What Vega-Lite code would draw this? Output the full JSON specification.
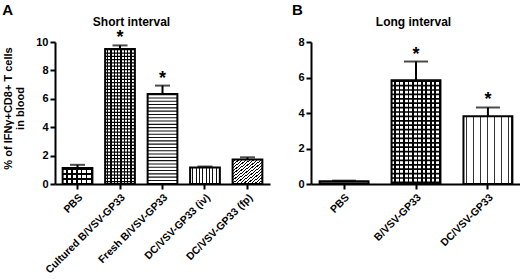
{
  "$schema": "https://vega.github.io/schema/vega-lite/v6.json",
  "padding": {"left": 2, "top": 3, "right": 5, "bottom": 0},
  "spacing": 21,
  "config": {
    "view": {"stroke": null},
    "font": "Liberation Sans",
    "axis": {"domainColor": "black", "domainWidth": 2, "tickColor": "black", "tickWidth": 2, "tickSize": 5, "labelColor": "black", "labelFont": "Liberation Sans", "labelFontWeight": "bold", "titleColor": "black", "titleFont": "Liberation Sans", "titleFontWeight": "bold", "grid": false, "labelOverlap": false},
    "axisX": {"labelFontSize": 10.5, "labelAngle": -45, "labelAlign": "right", "labelBaseline": "top", "labelPadding": 3},
    "axisY": {"labelFontSize": 11, "labelPadding": 2},
    "title": {"color": "black", "font": "Liberation Sans"}
  },
  "datasets": {
    "a": [
      {"group": "PBS", "mean": 1.12, "upper": 1.35, "star": ""},
      {"group": "Cultured B/VSV-GP33", "mean": 9.5, "upper": 9.76, "star": "*"},
      {"group": "Fresh B/VSV-GP33", "mean": 6.33, "upper": 6.93, "star": "*"},
      {"group": "DC/VSV-GP33 (iv)", "mean": 1.17, "upper": 1.23, "star": ""},
      {"group": "DC/VSV-GP33 (fp)", "mean": 1.73, "upper": 1.88, "star": ""}
    ],
    "b": [
      {"group": "PBS", "mean": 0.15, "upper": 0.19, "star": ""},
      {"group": "B/VSV-GP33", "mean": 5.84, "upper": 6.9, "star": "*"},
      {"group": "DC/VSV-GP33", "mean": 3.82, "upper": 4.31, "star": "*"}
    ]
  },
  "hconcat": [
    {
      "width": 215,
      "height": 142,
      "title": {"text": "A", "anchor": "start", "frame": "bounds", "fontSize": 15, "fontWeight": "bold", "offset": -3},
      "data": {"name": "a"},
      "resolve": {"axis": {"x": "independent", "y": "independent"}},
      "layer": [
        {
          "mark": {"type": "bar", "strokeWidth": 0},
          "encoding": {
            "x": {"field": "group", "type": "nominal", "sort": null, "scale": {"paddingInner": 0.3, "paddingOuter": 0.18}, "axis": {"title": null}},
            "y": {"field": "mean", "type": "quantitative", "scale": {"domain": [0, 10]}, "axis": {"values": [0, 2, 4, 6, 8, 10], "title": ["% of IFNγ+CD8+ T cells", "in blood"], "titleFontSize": 11, "titlePadding": 10, "titleLineHeight": 12.5, "titleY": 66}},
            "fill": {
              "condition": [
                {"test": "datum.group == 'PBS'", "value": {"gradient": "linear", "x1": 0, "y1": 0, "x2": 1, "y2": 0, "stops": [
                  {"offset": 0, "color": "#fff"}, {"offset": 0.1033, "color": "#fff"}, {"offset": 0.1033, "color": "#000"}, {"offset": 0.1667, "color": "#000"},
                  {"offset": 0.1667, "color": "#fff"}, {"offset": 0.27, "color": "#fff"}, {"offset": 0.27, "color": "#000"}, {"offset": 0.3333, "color": "#000"},
                  {"offset": 0.3333, "color": "#fff"}, {"offset": 0.4367, "color": "#fff"}, {"offset": 0.4367, "color": "#000"}, {"offset": 0.5, "color": "#000"},
                  {"offset": 0.5, "color": "#fff"}, {"offset": 0.6033, "color": "#fff"}, {"offset": 0.6033, "color": "#000"}, {"offset": 0.6667, "color": "#000"},
                  {"offset": 0.6667, "color": "#fff"}, {"offset": 0.77, "color": "#fff"}, {"offset": 0.77, "color": "#000"}, {"offset": 0.8333, "color": "#000"},
                  {"offset": 0.8333, "color": "#fff"}, {"offset": 0.9367, "color": "#fff"}, {"offset": 0.9367, "color": "#000"}, {"offset": 1, "color": "#000"}
                ]}},
                {"test": "datum.group == 'Cultured B/VSV-GP33'", "value": {"gradient": "linear", "x1": 0, "y1": 0, "x2": 1, "y2": 0, "stops": [
                  {"offset": 0, "color": "#fff"}, {"offset": 0.0689, "color": "#fff"}, {"offset": 0.0689, "color": "#000"}, {"offset": 0.1111, "color": "#000"},
                  {"offset": 0.1111, "color": "#fff"}, {"offset": 0.18, "color": "#fff"}, {"offset": 0.18, "color": "#000"}, {"offset": 0.2222, "color": "#000"},
                  {"offset": 0.2222, "color": "#fff"}, {"offset": 0.2911, "color": "#fff"}, {"offset": 0.2911, "color": "#000"}, {"offset": 0.3333, "color": "#000"},
                  {"offset": 0.3333, "color": "#fff"}, {"offset": 0.4022, "color": "#fff"}, {"offset": 0.4022, "color": "#000"}, {"offset": 0.4444, "color": "#000"},
                  {"offset": 0.4444, "color": "#fff"}, {"offset": 0.5133, "color": "#fff"}, {"offset": 0.5133, "color": "#000"}, {"offset": 0.5556, "color": "#000"},
                  {"offset": 0.5556, "color": "#fff"}, {"offset": 0.6244, "color": "#fff"}, {"offset": 0.6244, "color": "#000"}, {"offset": 0.6667, "color": "#000"},
                  {"offset": 0.6667, "color": "#fff"}, {"offset": 0.7356, "color": "#fff"}, {"offset": 0.7356, "color": "#000"}, {"offset": 0.7778, "color": "#000"},
                  {"offset": 0.7778, "color": "#fff"}, {"offset": 0.8467, "color": "#fff"}, {"offset": 0.8467, "color": "#000"}, {"offset": 0.8889, "color": "#000"},
                  {"offset": 0.8889, "color": "#fff"}, {"offset": 0.9578, "color": "#fff"}, {"offset": 0.9578, "color": "#000"}, {"offset": 1, "color": "#000"}
                ]}},
                {"test": "datum.group == 'DC/VSV-GP33 (iv)'", "value": {"gradient": "linear", "x1": 0, "y1": 0, "x2": 1, "y2": 0, "stops": [
                  {"offset": 0, "color": "#fff"}, {"offset": 0.0778, "color": "#fff"}, {"offset": 0.0778, "color": "#111"}, {"offset": 0.1111, "color": "#111"},
                  {"offset": 0.1111, "color": "#fff"}, {"offset": 0.1889, "color": "#fff"}, {"offset": 0.1889, "color": "#111"}, {"offset": 0.2222, "color": "#111"},
                  {"offset": 0.2222, "color": "#fff"}, {"offset": 0.3, "color": "#fff"}, {"offset": 0.3, "color": "#111"}, {"offset": 0.3333, "color": "#111"},
                  {"offset": 0.3333, "color": "#fff"}, {"offset": 0.4111, "color": "#fff"}, {"offset": 0.4111, "color": "#111"}, {"offset": 0.4444, "color": "#111"},
                  {"offset": 0.4444, "color": "#fff"}, {"offset": 0.5222, "color": "#fff"}, {"offset": 0.5222, "color": "#111"}, {"offset": 0.5556, "color": "#111"},
                  {"offset": 0.5556, "color": "#fff"}, {"offset": 0.6333, "color": "#fff"}, {"offset": 0.6333, "color": "#111"}, {"offset": 0.6667, "color": "#111"},
                  {"offset": 0.6667, "color": "#fff"}, {"offset": 0.7444, "color": "#fff"}, {"offset": 0.7444, "color": "#111"}, {"offset": 0.7778, "color": "#111"},
                  {"offset": 0.7778, "color": "#fff"}, {"offset": 0.8556, "color": "#fff"}, {"offset": 0.8556, "color": "#111"}, {"offset": 0.8889, "color": "#111"},
                  {"offset": 0.8889, "color": "#fff"}, {"offset": 0.9667, "color": "#fff"}, {"offset": 0.9667, "color": "#111"}, {"offset": 1, "color": "#111"}
                ]}},
                {"test": "datum.group == 'DC/VSV-GP33 (fp)'", "value": {"gradient": "linear", "x1": 0, "y1": 0, "x2": 1, "y2": 1, "stops": [
                  {"offset": 0, "color": "#fff"}, {"offset": 0.0406, "color": "#fff"}, {"offset": 0.0406, "color": "#000"}, {"offset": 0.0625, "color": "#000"},
                  {"offset": 0.0625, "color": "#fff"}, {"offset": 0.1031, "color": "#fff"}, {"offset": 0.1031, "color": "#000"}, {"offset": 0.125, "color": "#000"},
                  {"offset": 0.125, "color": "#fff"}, {"offset": 0.1656, "color": "#fff"}, {"offset": 0.1656, "color": "#000"}, {"offset": 0.1875, "color": "#000"},
                  {"offset": 0.1875, "color": "#fff"}, {"offset": 0.2281, "color": "#fff"}, {"offset": 0.2281, "color": "#000"}, {"offset": 0.25, "color": "#000"},
                  {"offset": 0.25, "color": "#fff"}, {"offset": 0.2906, "color": "#fff"}, {"offset": 0.2906, "color": "#000"}, {"offset": 0.3125, "color": "#000"},
                  {"offset": 0.3125, "color": "#fff"}, {"offset": 0.3531, "color": "#fff"}, {"offset": 0.3531, "color": "#000"}, {"offset": 0.375, "color": "#000"},
                  {"offset": 0.375, "color": "#fff"}, {"offset": 0.4156, "color": "#fff"}, {"offset": 0.4156, "color": "#000"}, {"offset": 0.4375, "color": "#000"},
                  {"offset": 0.4375, "color": "#fff"}, {"offset": 0.4781, "color": "#fff"}, {"offset": 0.4781, "color": "#000"}, {"offset": 0.5, "color": "#000"},
                  {"offset": 0.5, "color": "#fff"}, {"offset": 0.5406, "color": "#fff"}, {"offset": 0.5406, "color": "#000"}, {"offset": 0.5625, "color": "#000"},
                  {"offset": 0.5625, "color": "#fff"}, {"offset": 0.6031, "color": "#fff"}, {"offset": 0.6031, "color": "#000"}, {"offset": 0.625, "color": "#000"},
                  {"offset": 0.625, "color": "#fff"}, {"offset": 0.6656, "color": "#fff"}, {"offset": 0.6656, "color": "#000"}, {"offset": 0.6875, "color": "#000"},
                  {"offset": 0.6875, "color": "#fff"}, {"offset": 0.7281, "color": "#fff"}, {"offset": 0.7281, "color": "#000"}, {"offset": 0.75, "color": "#000"},
                  {"offset": 0.75, "color": "#fff"}, {"offset": 0.7906, "color": "#fff"}, {"offset": 0.7906, "color": "#000"}, {"offset": 0.8125, "color": "#000"},
                  {"offset": 0.8125, "color": "#fff"}, {"offset": 0.8531, "color": "#fff"}, {"offset": 0.8531, "color": "#000"}, {"offset": 0.875, "color": "#000"},
                  {"offset": 0.875, "color": "#fff"}, {"offset": 0.9156, "color": "#fff"}, {"offset": 0.9156, "color": "#000"}, {"offset": 0.9375, "color": "#000"},
                  {"offset": 0.9375, "color": "#fff"}, {"offset": 0.9781, "color": "#fff"}, {"offset": 0.9781, "color": "#000"}, {"offset": 1, "color": "#000"}
                ]}}
              ],
              "value": "white"
            }
          }
        },
        {
          "transform": [{"filter": "datum.group == 'PBS'"}],
          "mark": {"type": "rule", "strokeWidth": 29.7, "strokeCap": "butt", "strokeDash": [1.9, 3.1], "color": "black"},
          "encoding": {
            "x": {"field": "group", "type": "nominal", "sort": null, "axis": null},
            "y": {"field": "mean", "type": "quantitative", "axis": null},
            "y2": {"datum": 0}
          }
        },
        {
          "transform": [{"filter": "datum.group == 'Cultured B/VSV-GP33'"}],
          "mark": {"type": "rule", "strokeWidth": 29.7, "strokeCap": "butt", "strokeDash": [1.25, 2.05], "color": "black"},
          "encoding": {
            "x": {"field": "group", "type": "nominal", "sort": null, "axis": null},
            "y": {"field": "mean", "type": "quantitative", "axis": null},
            "y2": {"datum": 0}
          }
        },
        {
          "transform": [{"filter": "datum.group == 'Fresh B/VSV-GP33'"}],
          "mark": {"type": "rule", "strokeWidth": 29.7, "strokeCap": "butt", "strokeDash": [1.1, 2.2], "color": "#111"},
          "encoding": {
            "x": {"field": "group", "type": "nominal", "sort": null, "axis": null},
            "y": {"field": "mean", "type": "quantitative", "axis": null},
            "y2": {"datum": 0}
          }
        },
        {
          "mark": {"type": "bar", "filled": false, "color": "black", "strokeWidth": 2},
          "encoding": {
            "x": {"field": "group", "type": "nominal", "sort": null, "axis": null},
            "y": {"field": "mean", "type": "quantitative", "axis": null}
          }
        },
        {
          "mark": {"type": "rule", "color": "black", "strokeWidth": 2},
          "encoding": {
            "x": {"field": "group", "type": "nominal", "sort": null, "axis": null},
            "y": {"field": "mean", "type": "quantitative", "axis": null},
            "y2": {"field": "upper"}
          }
        },
        {
          "mark": {"type": "tick", "color": "black", "size": 15, "thickness": 2, "orient": "horizontal"},
          "encoding": {
            "x": {"field": "group", "type": "nominal", "sort": null, "axis": null},
            "y": {"field": "upper", "type": "quantitative", "axis": null}
          }
        },
        {
          "mark": {"type": "text", "fontSize": 18, "fontWeight": "bold", "baseline": "alphabetic", "dy": -2, "color": "black"},
          "encoding": {
            "x": {"field": "group", "type": "nominal", "sort": null, "axis": {"orient": "top", "domain": false, "ticks": false, "labels": false, "title": "Short interval", "titleFontSize": 12, "titlePadding": 14, "titleX": 76}},
            "y": {"field": "upper", "type": "quantitative", "axis": null},
            "text": {"field": "star"}
          }
        }
      ]
    },
    {
      "width": 210,
      "height": 142,
      "title": {"text": "B", "anchor": "start", "frame": "bounds", "fontSize": 15, "fontWeight": "bold", "offset": -3, "dx": -6},
      "data": {"name": "b"},
      "resolve": {"axis": {"x": "independent", "y": "independent"}},
      "layer": [
        {
          "mark": {"type": "bar", "strokeWidth": 0},
          "encoding": {
            "x": {"field": "group", "type": "nominal", "sort": null, "scale": {"paddingInner": 0.32, "paddingOuter": 0.12}, "axis": {"title": null}},
            "y": {"field": "mean", "type": "quantitative", "scale": {"domain": [0, 8]}, "axis": {"values": [0, 2, 4, 6, 8], "title": null}},
            "fill": {
              "condition": [
                {"test": "datum.group == 'PBS'", "value": "#555"},
                {"test": "datum.group == 'B/VSV-GP33'", "value": {"gradient": "linear", "x1": 0, "y1": 0, "x2": 1, "y2": 0, "stops": [
                  {"offset": 0, "color": "#fff"}, {"offset": 0.0564, "color": "#fff"}, {"offset": 0.0564, "color": "#000"}, {"offset": 0.0909, "color": "#000"},
                  {"offset": 0.0909, "color": "#fff"}, {"offset": 0.1473, "color": "#fff"}, {"offset": 0.1473, "color": "#000"}, {"offset": 0.1818, "color": "#000"},
                  {"offset": 0.1818, "color": "#fff"}, {"offset": 0.2382, "color": "#fff"}, {"offset": 0.2382, "color": "#000"}, {"offset": 0.2727, "color": "#000"},
                  {"offset": 0.2727, "color": "#fff"}, {"offset": 0.3291, "color": "#fff"}, {"offset": 0.3291, "color": "#000"}, {"offset": 0.3636, "color": "#000"},
                  {"offset": 0.3636, "color": "#fff"}, {"offset": 0.42, "color": "#fff"}, {"offset": 0.42, "color": "#000"}, {"offset": 0.4545, "color": "#000"},
                  {"offset": 0.4545, "color": "#fff"}, {"offset": 0.5109, "color": "#fff"}, {"offset": 0.5109, "color": "#000"}, {"offset": 0.5455, "color": "#000"},
                  {"offset": 0.5455, "color": "#fff"}, {"offset": 0.6019, "color": "#fff"}, {"offset": 0.6019, "color": "#000"}, {"offset": 0.6364, "color": "#000"},
                  {"offset": 0.6364, "color": "#fff"}, {"offset": 0.6928, "color": "#fff"}, {"offset": 0.6928, "color": "#000"}, {"offset": 0.7273, "color": "#000"},
                  {"offset": 0.7273, "color": "#fff"}, {"offset": 0.7837, "color": "#fff"}, {"offset": 0.7837, "color": "#000"}, {"offset": 0.8182, "color": "#000"},
                  {"offset": 0.8182, "color": "#fff"}, {"offset": 0.8746, "color": "#fff"}, {"offset": 0.8746, "color": "#000"}, {"offset": 0.9091, "color": "#000"},
                  {"offset": 0.9091, "color": "#fff"}, {"offset": 0.9655, "color": "#fff"}, {"offset": 0.9655, "color": "#000"}, {"offset": 1, "color": "#000"}
                ]}},
                {"test": "datum.group == 'DC/VSV-GP33'", "value": {"gradient": "linear", "x1": 0, "y1": 0, "x2": 1, "y2": 0, "stops": [
                  {"offset": 0, "color": "#fff"}, {"offset": 0.0536, "color": "#fff"}, {"offset": 0.0536, "color": "#333"}, {"offset": 0.0714, "color": "#333"},
                  {"offset": 0.0714, "color": "#fff"}, {"offset": 0.125, "color": "#fff"}, {"offset": 0.125, "color": "#333"}, {"offset": 0.1429, "color": "#333"},
                  {"offset": 0.1429, "color": "#fff"}, {"offset": 0.1964, "color": "#fff"}, {"offset": 0.1964, "color": "#333"}, {"offset": 0.2143, "color": "#333"},
                  {"offset": 0.2143, "color": "#fff"}, {"offset": 0.2679, "color": "#fff"}, {"offset": 0.2679, "color": "#333"}, {"offset": 0.2857, "color": "#333"},
                  {"offset": 0.2857, "color": "#fff"}, {"offset": 0.3393, "color": "#fff"}, {"offset": 0.3393, "color": "#333"}, {"offset": 0.3571, "color": "#333"},
                  {"offset": 0.3571, "color": "#fff"}, {"offset": 0.4107, "color": "#fff"}, {"offset": 0.4107, "color": "#333"}, {"offset": 0.4286, "color": "#333"},
                  {"offset": 0.4286, "color": "#fff"}, {"offset": 0.4821, "color": "#fff"}, {"offset": 0.4821, "color": "#333"}, {"offset": 0.5, "color": "#333"},
                  {"offset": 0.5, "color": "#fff"}, {"offset": 0.5536, "color": "#fff"}, {"offset": 0.5536, "color": "#333"}, {"offset": 0.5714, "color": "#333"},
                  {"offset": 0.5714, "color": "#fff"}, {"offset": 0.625, "color": "#fff"}, {"offset": 0.625, "color": "#333"}, {"offset": 0.6429, "color": "#333"},
                  {"offset": 0.6429, "color": "#fff"}, {"offset": 0.6964, "color": "#fff"}, {"offset": 0.6964, "color": "#333"}, {"offset": 0.7143, "color": "#333"},
                  {"offset": 0.7143, "color": "#fff"}, {"offset": 0.7679, "color": "#fff"}, {"offset": 0.7679, "color": "#333"}, {"offset": 0.7857, "color": "#333"},
                  {"offset": 0.7857, "color": "#fff"}, {"offset": 0.8393, "color": "#fff"}, {"offset": 0.8393, "color": "#333"}, {"offset": 0.8571, "color": "#333"},
                  {"offset": 0.8571, "color": "#fff"}, {"offset": 0.9107, "color": "#fff"}, {"offset": 0.9107, "color": "#333"}, {"offset": 0.9286, "color": "#333"},
                  {"offset": 0.9286, "color": "#fff"}, {"offset": 0.9821, "color": "#fff"}, {"offset": 0.9821, "color": "#333"}, {"offset": 1, "color": "#333"}
                ]}}
              ],
              "value": "white"
            }
          }
        },
        {
          "transform": [{"filter": "datum.group == 'B/VSV-GP33'"}],
          "mark": {"type": "rule", "strokeWidth": 48.9, "strokeCap": "butt", "strokeDash": [1.7, 2.7], "color": "black"},
          "encoding": {
            "x": {"field": "group", "type": "nominal", "sort": null, "axis": null},
            "y": {"field": "mean", "type": "quantitative", "axis": null},
            "y2": {"datum": 0}
          }
        },
        {
          "mark": {"type": "bar", "filled": false, "color": "black", "strokeWidth": 2},
          "encoding": {
            "x": {"field": "group", "type": "nominal", "sort": null, "axis": null},
            "y": {"field": "mean", "type": "quantitative", "axis": null}
          }
        },
        {
          "mark": {"type": "rule", "color": "black", "strokeWidth": 2},
          "encoding": {
            "x": {"field": "group", "type": "nominal", "sort": null, "axis": null},
            "y": {"field": "mean", "type": "quantitative", "axis": null},
            "y2": {"field": "upper"}
          }
        },
        {
          "mark": {"type": "tick", "color": "black", "size": 24, "thickness": 2, "orient": "horizontal"},
          "encoding": {
            "x": {"field": "group", "type": "nominal", "sort": null, "axis": null},
            "y": {"field": "upper", "type": "quantitative", "axis": null}
          }
        },
        {
          "mark": {"type": "text", "fontSize": 18, "fontWeight": "bold", "baseline": "alphabetic", "dy": -2, "color": "black"},
          "encoding": {
            "x": {"field": "group", "type": "nominal", "sort": null, "axis": {"orient": "top", "domain": false, "ticks": false, "labels": false, "title": "Long interval", "titleFontSize": 12, "titlePadding": 14, "titleX": 102}},
            "y": {"field": "upper", "type": "quantitative", "axis": null},
            "text": {"field": "star"}
          }
        }
      ]
    }
  ]
}
